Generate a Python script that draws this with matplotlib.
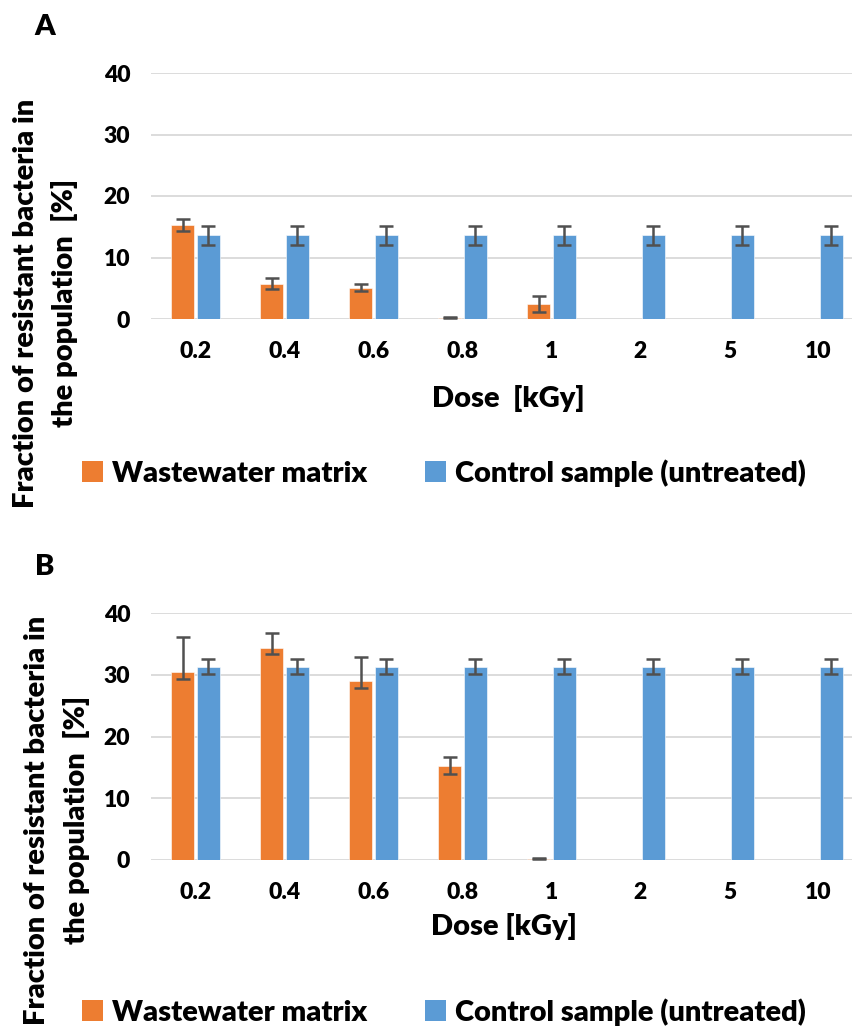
import matplotlib.pyplot as plt
import numpy as np
from matplotlib.patches import Patch

plt.rcParams['font.family'] = ['Lato', 'DejaVu Sans']
plt.rcParams['font.weight'] = 'heavy'

doses = ['0.2', '0.4', '0.6', '0.8', '1', '2', '5', '10']
nan = np.nan

# panel A
ww_a = [15.3, 5.7, 5.1, 0.2, 2.4, 0, 0, 0]
ww_a_err = [1.0, 0.9, 0.6, 0.05, 1.3, nan, nan, nan]
ctrl_a = [13.6] * 8
ctrl_a_err = [1.6] * 8

# panel B (wastewater error bars are asymmetric)
ww_b = [30.4, 34.4, 29.0, 15.2, 0.2, 0, 0, 0]
ww_b_lo = [1.1, 1.0, 1.1, 1.3, 0.05, nan, nan, nan]
ww_b_hi = [5.7, 2.4, 3.8, 1.5, 0.05, nan, nan, nan]
ctrl_b = [31.3] * 8
ctrl_b_err = [1.25] * 8

ORANGE = '#ED7D31'
BLUE = '#5B9BD5'
ERR = '#505050'
W, H = 853, 1032

fig = plt.figure(figsize=(W / 100, H / 100), dpi=100)


def px_axes(left, top, right, bottom):
    return fig.add_axes([left / W, 1 - bottom / H, (right - left) / W, (bottom - top) / H])


def draw_panel(ax, ww, ww_err, ctrl, ctrl_err):
    x = np.arange(len(doses))
    ekw = dict(ecolor=ERR, elinewidth=1.8, capsize=5, capthick=1.8)
    ax.bar(x - 0.145, ww, 0.26, color=ORANGE, edgecolor='white', linewidth=0.4,
           yerr=ww_err, error_kw=ekw, zorder=3)
    ax.bar(x + 0.145, ctrl, 0.26, color=BLUE, edgecolor='white', linewidth=0.4,
           yerr=ctrl_err, error_kw=ekw, zorder=3)
    ax.set_xlim(-0.5, len(doses) - 0.5)
    ax.set_ylim(0, 40)
    ax.set_yticks([0, 10, 20, 30, 40])
    ax.set_xticks(x)
    ax.set_xticklabels(doses)
    ax.grid(axis='y', color='#D9D9D9', linewidth=1.3, zorder=0)
    ax.set_axisbelow(True)
    for s in ax.spines.values():
        s.set_visible(False)
    ax.tick_params(axis='both', length=0, labelsize=16.5)
    ax.tick_params(axis='x', pad=16)
    ax.tick_params(axis='y', pad=15)


axA = px_axes(151, 73, 863, 319)
draw_panel(axA, ww_a, ww_a_err, ctrl_a, ctrl_a_err)
axB = px_axes(151, 613, 863, 860)
draw_panel(axB, ww_b, [ww_b_lo, ww_b_hi], ctrl_b, ctrl_b_err)

fig.text(508 / W, 1 - 398 / H, 'Dose  [kGy]', ha='center', va='center', fontsize=21)
fig.text(504 / W, 1 - 927 / H, 'Dose [kGy]', ha='center', va='center', fontsize=21)

fig.text(45 / W, 1 - 27 / H, 'A', ha='center', va='center', fontsize=21)
fig.text(45 / W, 1 - 567 / H, 'B', ha='center', va='center', fontsize=21)

for (x1, x2, yc) in [(26, 65, 303), (37, 77, 820)]:
    fig.text(x1 / W, 1 - yc / H, 'Fraction of resistant bacteria in', rotation=90,
             ha='center', va='center', fontsize=21)
    fig.text(x2 / W, 1 - yc / H, 'the population  [%]', rotation=90,
             ha='center', va='center', fontsize=21)

handles = [Patch(facecolor=ORANGE), Patch(facecolor=BLUE)]
labels = ['Wastewater matrix', 'Control sample (untreated)']
for yc in [473, 1012]:
    fig.legend(handles, labels, loc='center left', bbox_to_anchor=(82 / W, 1 - yc / H),
               ncol=2, frameon=False, fontsize=21, handlelength=0.72, handleheight=0.72,
               handletextpad=0.3, columnspacing=2.0, borderaxespad=0, borderpad=0)

fig.savefig('out.png', dpi=100)
